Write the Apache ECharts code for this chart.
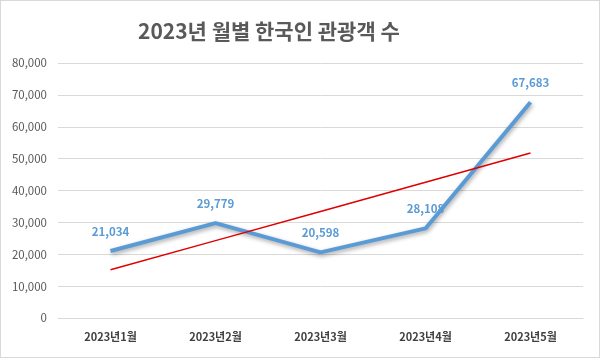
<!DOCTYPE html>
<html><head><meta charset="utf-8">
<script src="https://cdn.jsdelivr.net/npm/echarts@6/dist/echarts.min.js"></script>
<style>
html,body{margin:0;padding:0;background:#fff;}
#c{width:598px;height:356px;border:1px solid #d9d9d9;}
</style></head>
<body><div id="c"></div>
<script>
const categories = ['2023년1월','2023년2월','2023년3월','2023년4월','2023년5월'];
const visitors = [21034, 29779, 20598, 28108, 67683];
const trend = [15115, 24278, 33440, 42603, 51765];
const yTicks = {min: 0, max: 80000, interval: 10000};
const title = '2023년 월별 한국인 관광객 수';

const chart = echarts.init(document.getElementById('c'), null, {renderer: 'canvas'});
chart.setOption({
  animation: false,
  title: {text: title, left: 132, top: 15,
    textStyle: {fontFamily: 'Noto Sans CJK KR', fontSize: 21, fontWeight: 'bold', color: '#595959'}},
  grid: {left: 57, right: 16, top: 62, bottom: 39},
  xAxis: {type: 'category', data: categories, boundaryGap: true,
    axisLine: {lineStyle: {color: '#d9d9d9'}}, axisTick: {show: false},
    axisLabel: {fontFamily: 'Noto Sans CJK KR', fontSize: 11, fontWeight: 'bold', color: '#404040', margin: 13}},
  yAxis: {type: 'value', min: yTicks.min, max: yTicks.max, interval: yTicks.interval,
    axisLine: {show: false}, axisTick: {show: false},
    splitLine: {lineStyle: {color: '#d9d9d9'}},
    axisLabel: {fontFamily: 'Noto Sans CJK KR', fontSize: 11.5, color: '#595959', margin: 11,
      formatter: v => v.toLocaleString('en-US')}},
  series: [
    {type: 'line', data: visitors, symbol: 'circle', symbolSize: 2, showSymbol: true, z: 3,
      itemStyle: {color: 'rgba(91,155,213,0)', borderWidth: 0},
      lineStyle: {color: '#5b9bd5', width: 4, shadowColor: 'rgba(0,0,0,0.35)', shadowBlur: 4, shadowOffsetX: 1, shadowOffsetY: 2},
      label: {show: true, position: 'top', distance: 13, fontFamily: 'Noto Sans CJK KR', fontSize: 11.5, fontWeight: 'bold', color: '#5b9bd5',
        formatter: p => p.value.toLocaleString('en-US')}},
    {type: 'line', data: trend, symbol: 'none', z: 4,
      lineStyle: {color: '#e00000', width: 1.5}}
  ]
});
</script></body></html>
